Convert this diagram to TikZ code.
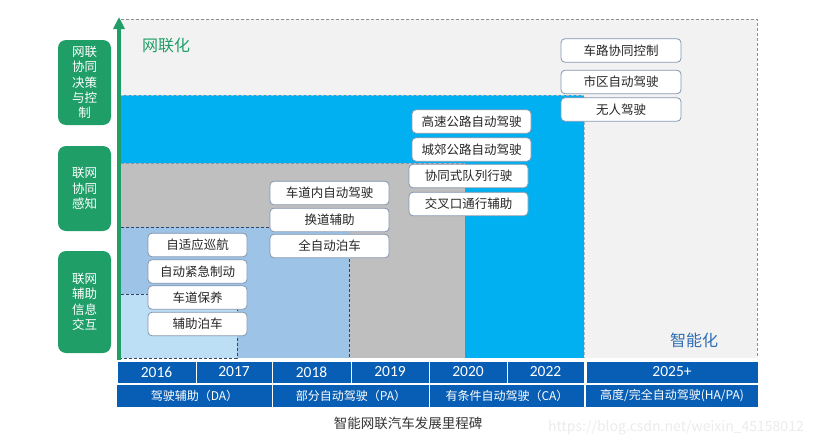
\documentclass[tikz,border=0pt]{standalone}
\usepackage{fontspec}
\setmainfont{Noto Sans CJK SC}
\newfontfamily\latinfont{Carlito}
\usetikzlibrary{arrows.meta}
\definecolor{sidegreen}{RGB}{32,158,104}
\definecolor{barblue}{RGB}{8,94,180}
\definecolor{cyanfill}{RGB}{0,176,240}
\definecolor{grayfill}{RGB}{191,191,191}
\definecolor{midblue}{RGB}{157,195,230}
\definecolor{lightblue}{RGB}{189,223,245}
\definecolor{bggray}{RGB}{242,242,242}
\definecolor{boxline}{RGB}{132,151,176}
\definecolor{textblue}{RGB}{46,109,180}
\definecolor{dashdark}{RGB}{50,70,100}
\tikzset{
  stage/.style={draw=boxline, fill=white, rounded corners=4pt, line width=0.8pt,
    minimum height=23.5pt, inner sep=0pt, text=black!85, font=\fontsize{12.5}{14}\selectfont},
  side/.style={fill=sidegreen, rounded corners=8pt, text=white, minimum width=53pt,
    align=center, inner sep=0pt, font=\fontsize{12.5}{15.3}\selectfont},
  yearcell/.style={fill=barblue, draw=white, line width=1pt, text=white, minimum height=22pt,
    inner sep=0pt, font=\latinfont\fontsize{15.5}{16}\selectfont},
  phasecell/.style={fill=barblue, text=white, minimum height=22pt, inner sep=0pt,
    font=\fontsize{12}{14}\selectfont},
  edge/.style={dashed, dash pattern=on 3pt off 2pt, line width=0.6pt},
}
\begin{document}
\begin{tikzpicture}[x=1pt,y=-1pt]
\useasboundingbox (0,0) rectangle (822,447);
\fill[bggray] (121,19) rectangle (757,358);
\draw[edge, black!45] (121,19) -- (757,19) -- (757,358);
\fill[cyanfill] (121,95) rectangle (584,358);
\draw[edge, boxline!70] (121,95) -- (584,95) -- (584,358);
\fill[grayfill] (121,163) rectangle (465,358);
\draw[edge, boxline] (121,163) -- (465,163);
\fill[midblue] (121,227) rectangle (349,358);
\draw[edge, dashdark] (121,227) -- (349,227) -- (349,358);
\fill[lightblue] (121,294) rectangle (237,358);
\draw[edge, dashdark] (121,294) -- (237,294) -- (237,358) -- (121,358);

\coordinate (axisfoot) at (119,360);
\coordinate (axistop) at (119,17);
\draw[sidegreen, line width=3.2pt, -{Triangle[width=11pt,length=12pt]}] (axisfoot) -- (axistop);

\node[side, minimum height=85pt] (coop) at (84.5,82.5) {网联\\协同\\决策\\与控\\制};
\node[side, minimum height=85pt] (sense) at (84.5,188.5) {联网\\协同\\感知};
\node[side, minimum height=102pt] (info) at (84.5,302) {联网\\辅助\\信息\\交互};

\node[text=sidegreen, font=\fontsize{16}{18}\selectfont] (net) at (166,45) {网联化};
\node[text=textblue, font=\fontsize{16}{18}\selectfont] (smart) at (694,340) {智能化};

\foreach \name/\y/\txt in {acc/245/自适应巡航, aeb/271.5/自动紧急制动, lka/297.5/车道保养, park/324/辅助泊车}
  \node[stage, minimum width=99pt] (\name) at (197.5,\y) {\txt};
\foreach \name/\y/\txt in {lane/193/车道内自动驾驶, change/220/换道辅助, apark/246/全自动泊车}
  \node[stage, minimum width=119pt] (\name) at (329.5,\y) {\txt};
\foreach \name/\y/\txt in {highway/121.5/高速公路自动驾驶, suburb/149.5/城郊公路自动驾驶}
  \node[stage, minimum width=119pt] (\name) at (471.5,\y) {\txt};
\foreach \name/\y/\txt in {platoon/176/协同式队列行驶, cross/204/交叉口通行辅助}
  \node[stage, minimum width=119pt] (\name) at (468.5,\y) {\txt};
\foreach \name/\y/\txt in {v2x/50.5/车路协同控制, urban/82/市区自动驾驶, driverless/109.5/无人驾驶}
  \node[stage, minimum width=120pt] (\name) at (621,\y) {\txt};

\foreach \name/\a/\b/\txt in {y16/117/196/2016, y17/196/272/2017, y18/272/351/2018, y19/351/429/2019,
    y20/429/507/2020, y22/507/584/2022, y25/586/758/2025+}
  \node[yearcell, minimum width={(\b-\a)*1pt}] (\name) at ({(\a+\b)/2},372) {\txt};
\foreach \name/\a/\b/\txt in {da/117/272/驾驶辅助（DA）, pa/273/429/部分自动驾驶（PA）,
    ca/430/584/有条件自动驾驶（CA）, ha/586/758/{高度/完全自动驾驶(HA/PA)}}
  \node[phasecell, minimum width={(\b-\a)*1pt}] (\name) at ({(\a+\b)/2},396) {\txt};

\node[text=black!80, font=\fontsize{13.5}{15}\selectfont] (caption) at (408,423) {智能网联汽车发展里程碑};
\node[text=black!8, font=\fontsize{14}{16}\selectfont] (mark) at (676,428) {https://blog.csdn.net/weixin\_45158012};
\end{tikzpicture}
\end{document}
